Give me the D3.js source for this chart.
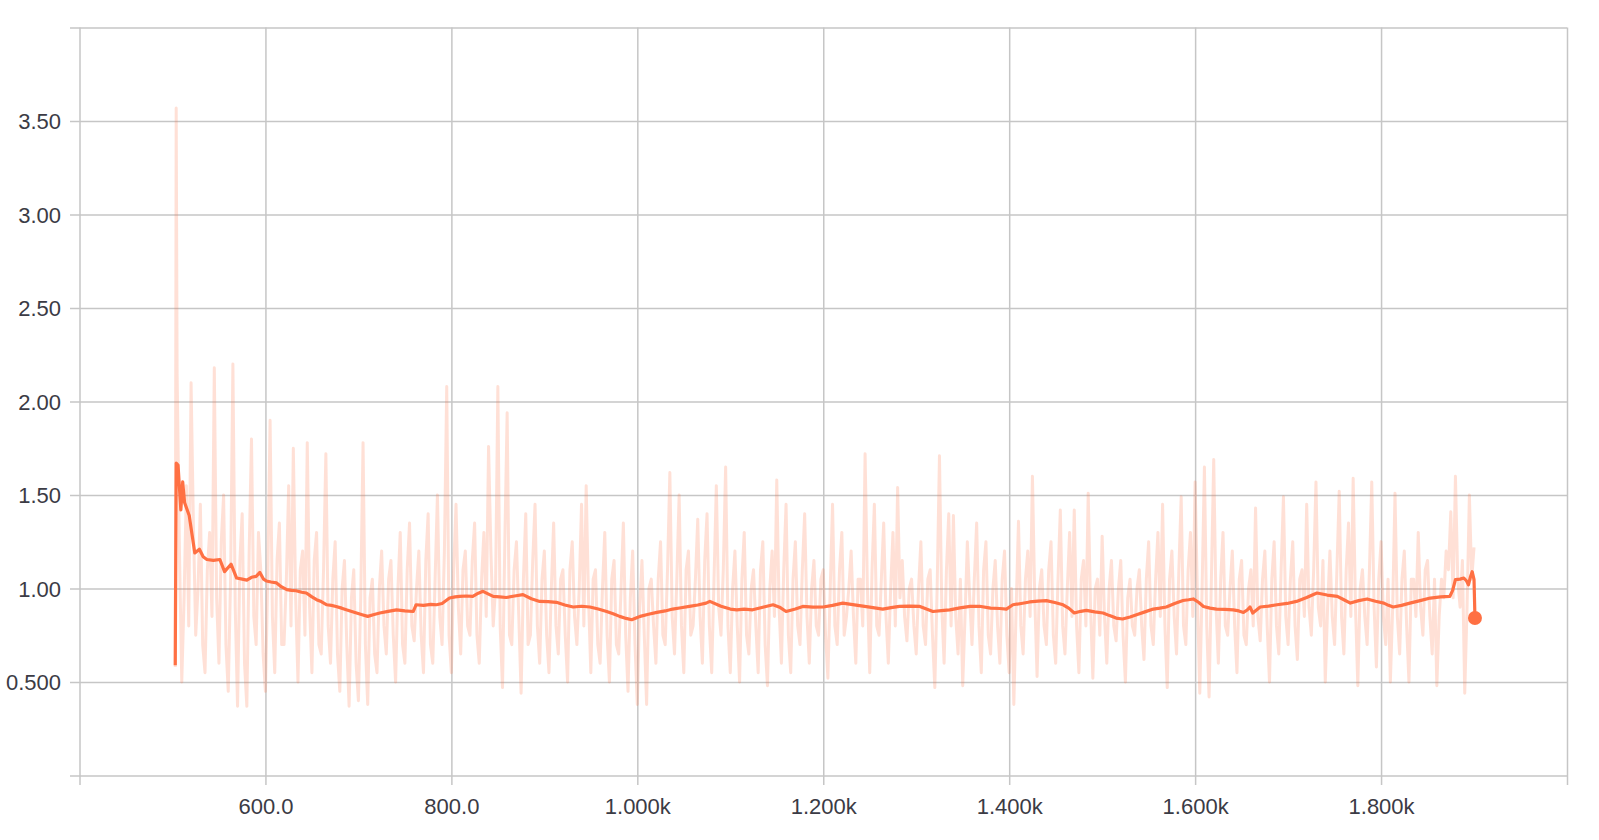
<!DOCTYPE html>
<html>
<head>
<meta charset="utf-8">
<script src="https://cdn.jsdelivr.net/npm/d3@7"></script>
<style>
  html, body { margin: 0; padding: 0; background: #ffffff; }
  svg { display: block; }
  .tick text { font-family: "Liberation Sans", Arial, Helvetica, sans-serif; font-size: 22px; fill: #3b3b45; }
</style>
</head>
<body>
<svg id="chart" width="1599" height="840"></svg>
<script>
// ---------- data ----------
const xTickValues = [400, 600, 800, 1000, 1200, 1400, 1600, 1800, 2000];
const xTickLabels = ["", "600.0", "800.0", "1.000k", "1.200k", "1.400k", "1.600k", "1.800k", ""];
const yTickValues = [0, 0.5, 1.0, 1.5, 2.0, 2.5, 3.0, 3.5, 4.0];
const yTickLabels = ["", "0.500", "1.00", "1.50", "2.00", "2.50", "3.00", "3.50", ""];

// raw (unsmoothed) series: first two points, then readings every 5 steps from 505 to 1900 (A),
// and in-between readings at 507.5, 512.5, ... (B)
const rawHeadSteps = [503, 504];
const rawHeadValues = [0.58, 3.57];
const rawStartA = 505, rawStartB = 507.5, rawInterval = 5;
const rawValuesA = [
  // 505-600
  2.15, 0.50, 1.55, 2.10, 0.75, 1.45, 0.55, 1.30, 2.18, 0.60, 1.50, 0.45, 2.20, 0.37, 1.40, 0.37, 1.80, 0.70, 1.10, 0.45,
  // 605-700
  1.90, 0.55, 1.35, 0.70, 1.55, 1.75, 0.50, 1.20, 1.78, 0.55, 1.30, 0.65, 1.72, 0.60, 1.25, 0.45, 1.15, 0.37, 1.10, 0.40,
  // 705-800
  1.78, 0.38, 1.05, 0.55, 1.20, 0.65, 1.15, 0.50, 1.30, 0.60, 1.35, 0.72, 1.20, 0.55, 1.40, 0.60, 1.50, 0.70, 2.08, 0.55,
  // 805-900
  1.45, 0.65, 1.20, 0.75, 1.35, 0.60, 1.30, 1.76, 0.80, 2.08, 0.47, 1.94, 0.70, 1.25, 0.44, 1.40, 0.75, 1.45, 0.60, 1.20,
  // 905-1000
  0.55, 1.35, 0.65, 1.10, 0.50, 1.25, 0.70, 1.45, 1.55, 0.55, 1.10, 0.60, 1.30, 0.50, 1.15, 0.65, 1.35, 0.45, 1.20, 0.38,
  // 1005-1100
  1.15, 0.38, 1.05, 0.60, 1.25, 0.70, 1.62, 0.65, 1.50, 0.55, 1.20, 0.80, 1.37, 0.60, 1.40, 0.55, 1.55, 0.75, 1.65, 0.55,
  // 1105-1200
  1.20, 0.50, 1.30, 0.65, 1.10, 0.55, 1.25, 0.48, 1.20, 1.58, 0.60, 1.45, 0.55, 1.25, 0.70, 1.40, 0.60, 1.15, 0.75, 1.10,
  // 1205-1300
  0.52, 1.45, 0.70, 1.30, 0.85, 1.20, 0.60, 1.05, 1.72, 0.55, 1.45, 0.75, 1.35, 0.60, 1.30, 1.54, 1.15, 0.72, 1.05, 0.65,
  // 1305-1400
  1.25, 0.70, 1.10, 0.47, 1.71, 0.60, 1.40, 1.39, 0.65, 0.48, 1.25, 0.70, 1.35, 0.55, 1.25, 0.65, 1.15, 0.60, 1.20, 0.55,
  // 1405-1500
  0.38, 1.36, 0.65, 1.20, 1.60, 0.53, 1.10, 0.70, 1.25, 0.60, 1.42, 0.65, 1.30, 1.42, 0.55, 1.15, 1.51, 0.52, 1.05, 1.28,
  // 1505-1600
  0.60, 1.15, 0.72, 1.15, 0.50, 1.05, 0.75, 1.10, 0.62, 1.25, 0.70, 1.30, 1.45, 0.47, 1.20, 0.65, 1.49, 0.70, 1.30, 1.57,
  // 1605-1660
  0.44, 1.65, 0.42, 1.69, 0.60, 1.30, 0.75, 1.20, 0.55, 1.15, 0.70, 1.10,
  // 1665-1900
  1.43, 0.72, 1.20, 0.50, 1.25, 0.65, 1.49, 0.70, 1.25, 0.62, 1.10, 1.45, 0.75, 1.57, 0.80, 0.50, 1.20, 0.70, 1.52, 0.65,
  1.35, 1.59, 0.48, 1.10, 0.70, 1.57, 0.58, 1.25, 0.70, 0.50, 1.51, 0.65, 1.20, 0.50, 1.05, 1.30, 0.75, 1.15, 0.65, 0.48,
  1.05, 1.20, 1.41, 1.60, 0.90, 0.44, 1.50, 1.22
];
const rawValuesB = [
  // 507.5-602.5
  1.20, 0.95, 0.80, 1.35, 1.00, 0.70, 1.10, 0.85, 0.95, 1.25, 0.70, 1.05, 0.90, 1.15, 0.60, 1.20, 0.85, 1.30, 0.65, 1.05,
  // 607.5-702.5
  0.85, 1.15, 0.70, 1.05, 0.80, 0.95, 1.10, 0.75, 0.90, 1.15, 0.70, 1.10, 0.80, 1.05, 0.65, 1.00, 0.70, 0.95, 0.60, 0.95,
  // 707.5-802.5
  0.70, 0.95, 0.65, 1.00, 0.80, 1.05, 0.75, 1.00, 0.70, 1.10, 0.80, 1.00, 0.75, 1.15, 0.70, 1.05, 0.85, 1.20, 0.75, 1.10,
  // 807.5-902.5
  0.90, 1.10, 0.80, 1.15, 0.75, 1.05, 0.85, 1.20, 1.00, 0.80, 1.25, 0.75, 1.10, 0.85, 1.05, 0.70, 1.15, 0.80, 1.05, 0.75,
  // 907.5-1002.5
  1.00, 0.80, 1.05, 0.75, 1.10, 0.85, 1.00, 0.80, 0.95, 1.05, 0.70, 1.00, 0.75, 1.05, 0.70, 1.00, 0.75, 0.95, 0.70, 0.90,
  // 1007.5-1102.5
  0.75, 1.00, 0.80, 1.05, 0.75, 1.10, 0.85, 1.05, 0.80, 1.10, 0.75, 1.05, 0.85, 1.15, 0.80, 1.05, 0.90, 1.10, 0.80, 1.00,
  // 1107.5-1202.5
  0.80, 1.05, 0.75, 1.00, 0.80, 1.10, 0.70, 1.00, 0.85, 0.90, 1.10, 0.75, 1.05, 0.80, 1.10, 0.85, 1.00, 0.80, 1.05, 0.75,
  // 1207.5-1302.5
  1.00, 0.80, 1.10, 0.75, 1.00, 0.85, 1.05, 0.80, 1.00, 1.10, 0.80, 1.05, 0.85, 1.00, 0.80, 0.95, 0.85, 1.00, 0.80, 1.00,
  // 1307.5-1402.5
  0.80, 1.05, 0.75, 1.00, 0.90, 1.10, 0.80, 0.85, 1.05, 0.85, 0.95, 1.05, 0.80, 1.10, 0.75, 1.00, 0.80, 1.05, 0.75, 1.00,
  // 1407.5-1502.5
  0.90, 0.80, 1.05, 0.85, 0.95, 1.00, 0.80, 1.10, 0.75, 1.05, 0.80, 1.00, 0.85, 0.80, 1.05, 0.80, 0.90, 1.00, 0.75, 0.85,
  // 1507.5-1602.5
  1.00, 0.80, 1.00, 0.75, 0.95, 0.80, 1.00, 0.80, 1.05, 0.80, 1.05, 0.85, 0.80, 1.05, 0.85, 1.10, 0.80, 1.10, 0.85, 0.95,
  // 1607.5-1662.5
  1.00, 0.80, 1.05, 0.90, 1.05, 0.80, 1.00, 0.80, 1.05, 0.75, 1.00, 0.80,
  // 1667.5-1897.5
  0.85, 1.05, 0.80, 1.05, 0.80, 1.10, 0.85, 1.05, 0.80, 1.05, 0.85, 0.90, 1.10, 0.90, 1.15, 0.90, 0.85, 1.10, 0.85, 1.10,
  0.85, 0.90, 1.00, 0.85, 1.10, 0.90, 1.05, 0.85, 1.05, 0.90, 0.85, 1.05, 0.80, 1.05, 0.85, 0.90, 1.10, 0.85, 1.05, 0.85,
  0.95, 1.10, 0.95, 1.05, 1.15, 0.90, 1.05
];

// smoothed series
const smoothSteps = [
  503, 504, 506, 509, 511, 513, 518, 524, 529, 533, 537, 544, 551, 556, 563, 569, 575, 580, 585, 590,
  594, 598, 601, 606, 612, 617, 623, 628, 633, 639, 644, 650, 655, 660, 666, 671, 676, 682, 687, 692,
  698, 704, 710, 716, 723, 732, 741, 750, 759, 762, 770, 778, 784, 790, 798, 804, 809, 816, 823, 829,
  834, 840, 845, 852, 859, 868, 877, 886, 895, 904, 913, 922, 931, 940, 949, 958, 967, 974, 981, 988,
  994, 1000, 1003, 1012, 1021, 1030, 1038, 1047, 1056, 1065, 1074, 1078, 1090, 1100, 1107, 1115, 1124, 1135, 1146, 1153,
  1160, 1170, 1178, 1189, 1200, 1210, 1221, 1230, 1239, 1250, 1264, 1273, 1282, 1293, 1304, 1311, 1318, 1327, 1336, 1347,
  1358, 1368, 1380, 1390, 1397, 1404, 1413, 1422, 1431, 1440, 1449, 1458, 1464, 1470, 1477, 1483, 1492, 1501, 1508, 1515,
  1522, 1530, 1537, 1546, 1555, 1562, 1569, 1578, 1587, 1593, 1598, 1604, 1609, 1616, 1623, 1632, 1641, 1647, 1652, 1656,
  1659, 1662, 1670, 1679, 1688, 1699, 1709, 1720, 1731, 1742, 1753, 1760, 1767, 1776, 1785, 1794, 1803, 1808, 1813, 1822,
  1831, 1842, 1853, 1864, 1874, 1877, 1880, 1885, 1889, 1892, 1894, 1896, 1898, 1900, 1901
];
const smoothValues = [
  0.59, 1.67, 1.66, 1.42, 1.57, 1.46, 1.39, 1.19, 1.21, 1.17, 1.155, 1.15, 1.155, 1.09, 1.13, 1.056, 1.05, 1.045, 1.06, 1.065,
  1.086, 1.05, 1.04, 1.035, 1.03, 1.01, 0.994, 0.99, 0.988, 0.98, 0.976, 0.955, 0.94, 0.93, 0.913, 0.91, 0.904, 0.895, 0.886, 0.878,
  0.869, 0.86, 0.851, 0.86, 0.869, 0.878, 0.886, 0.88, 0.877, 0.913, 0.91, 0.915, 0.913, 0.92, 0.949, 0.955, 0.958, 0.96, 0.958, 0.975,
  0.985, 0.97, 0.958, 0.955, 0.952, 0.96, 0.967, 0.945, 0.931, 0.93, 0.926, 0.912, 0.901, 0.905, 0.901, 0.89, 0.877, 0.865, 0.851, 0.84,
  0.833, 0.845, 0.851, 0.862, 0.872, 0.88, 0.89, 0.897, 0.904, 0.912, 0.922, 0.931, 0.905, 0.89, 0.886, 0.89, 0.886, 0.9, 0.913, 0.9,
  0.877, 0.89, 0.904, 0.9, 0.901, 0.91, 0.922, 0.915, 0.908, 0.9, 0.89, 0.898, 0.904, 0.906, 0.904, 0.89, 0.877, 0.882, 0.886, 0.896,
  0.904, 0.905, 0.895, 0.893, 0.89, 0.913, 0.92, 0.928, 0.932, 0.935, 0.925, 0.913, 0.895, 0.869, 0.878, 0.883, 0.875, 0.869, 0.855, 0.842,
  0.837, 0.848, 0.86, 0.875, 0.89, 0.895, 0.901, 0.92, 0.936, 0.94, 0.944, 0.925, 0.904, 0.895, 0.89, 0.888, 0.886, 0.88, 0.872, 0.885,
  0.901, 0.869, 0.901, 0.906, 0.913, 0.92, 0.931, 0.952, 0.976, 0.965, 0.958, 0.94, 0.922, 0.935, 0.944, 0.932, 0.922, 0.91, 0.901, 0.91,
  0.922, 0.935, 0.949, 0.955, 0.958, 0.99, 1.047, 1.05, 1.056, 1.04, 1.02, 1.06, 1.09, 1.047, 0.842
];

// ---------- drawing ----------
const svg = d3.select("#chart");
const x = d3.scaleLinear().domain([400, 2000]).range([79.5, 1567]);
const y = d3.scaleLinear().domain([0, 4]).range([775.5, 27.5]);

const gridColor = "#c6c6c6";

// horizontal grid + y labels
const yAxis = d3.axisLeft(y)
  .tickValues(yTickValues)
  .tickFormat((d, i) => yTickLabels[i])
  .tickSize(-(1567 - 70))
  .tickPadding(9);
const gy = svg.append("g").attr("transform", "translate(70,0)").call(yAxis);
gy.select(".domain").remove();
gy.selectAll(".tick line").attr("stroke", gridColor).attr("stroke-width", 1.5);
gy.selectAll(".tick text").attr("dy", "0.36em");

// vertical grid + x labels
const xAxis = d3.axisBottom(x)
  .tickValues(xTickValues)
  .tickFormat((d, i) => xTickLabels[i])
  .tickSize(-(785 - 27.5))
  .tickPadding(13);
const gx = svg.append("g").attr("transform", "translate(0,785)").call(xAxis);
gx.select(".domain").remove();
gx.selectAll(".tick line").attr("stroke", gridColor).attr("stroke-width", 1.5);

// raw series (merge A and B readings in step order)
const rawData = rawHeadSteps.map((s, i) => [s, rawHeadValues[i]])
  .concat(rawValuesA.map((v, i) => [rawStartA + i * rawInterval, v]))
  .concat(rawValuesB.map((v, i) => [rawStartB + i * rawInterval, v]))
  .sort((a, b) => a[0] - b[0]);
const line = d3.line().x(d => x(d[0])).y(d => y(d[1]));

svg.append("path")
  .datum(rawData)
  .attr("fill", "none")
  .attr("stroke", "#ff7043")
  .attr("stroke-opacity", 0.22)
  .attr("stroke-width", 3)
  .attr("stroke-linejoin", "round")
  .attr("d", line);

// smoothed series
const smoothData = smoothSteps.map((s, i) => [s, smoothValues[i]]);
svg.append("path")
  .datum(smoothData)
  .attr("fill", "none")
  .attr("stroke", "#ff7043")
  .attr("stroke-width", 3.2)
  .attr("stroke-linejoin", "round")
  .attr("d", line);

// last point marker
const last = smoothData[smoothData.length - 1];
svg.append("circle")
  .attr("cx", x(last[0]))
  .attr("cy", y(last[1]))
  .attr("r", 7)
  .attr("fill", "#ff7043");
</script>
</body>
</html>
